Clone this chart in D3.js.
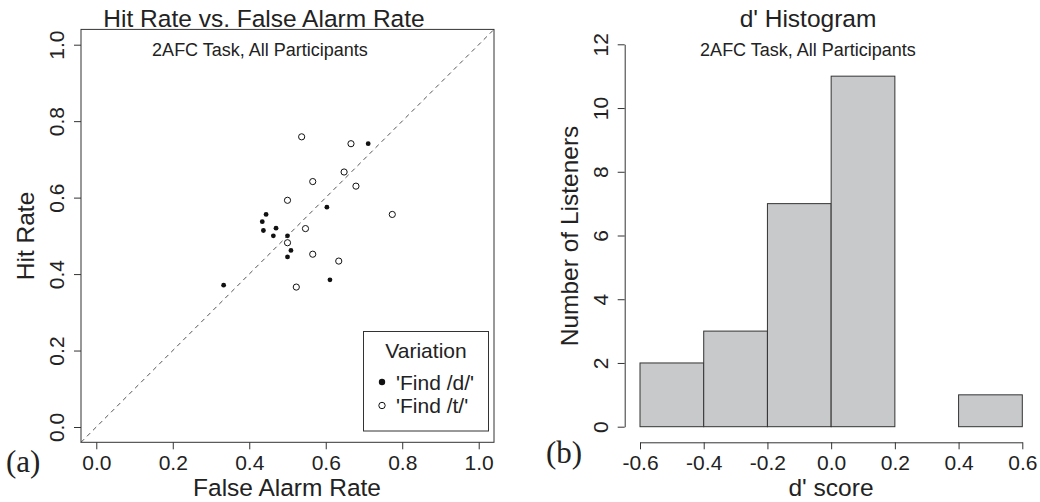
<!DOCTYPE html>
<html><head><meta charset="utf-8">
<script src="https://cdn.jsdelivr.net/npm/d3@7"></script>
<style>
body{margin:0;background:#fff;}
svg text{font-family:"Liberation Sans",Arial,sans-serif;fill:#222;}
</style></head>
<body><svg id="c" width="1040" height="502"></svg>
<script>
// ---- data ----
const findD_FA  = [0.333,0.434,0.444,0.437,0.470,0.463,0.500,0.509,0.500,0.603,0.611,0.711];
const findD_HIT = [0.371,0.537,0.556,0.514,0.520,0.500,0.500,0.462,0.445,0.575,0.385,0.741];
const findT_FA  = [0.537,0.666,0.648,0.566,0.679,0.500,0.774,0.547,0.500,0.566,0.634,0.523];
const findT_HIT = [0.759,0.741,0.667,0.642,0.630,0.593,0.556,0.519,0.482,0.452,0.434,0.366];
const scatterTicks = [0,0.2,0.4,0.6,0.8,1.0];
const binEdges = [-0.6,-0.4,-0.2,0.0,0.2,0.4,0.6];
const binCounts = [2,3,7,11,0,1];
const histYTicks = [0,2,4,6,8,10,12];
const legendLabels = ["'Find /d/'","'Find /t/'"];

const svg = d3.select("#c");
const ink = "#333";
const TICK_FS = "21px";

// ---- left panel: scatter ----
const L = {x0:81, x1:494, y0:29.4, y1:442.3};
const x = d3.scaleLinear().domain([-0.04,1.04]).range([L.x0,L.x1]);
const y = d3.scaleLinear().domain([-0.04,1.04]).range([L.y1,L.y0]);

svg.append("line")
  .attr("x1",x(-0.04)).attr("y1",y(-0.04)).attr("x2",x(1.04)).attr("y2",y(1.04))
  .attr("stroke","#555").attr("stroke-width",1).attr("stroke-dasharray","4.5,4");

svg.append("rect").attr("x",L.x0).attr("y",L.y0).attr("width",L.x1-L.x0).attr("height",L.y1-L.y0)
  .attr("fill","none").attr("stroke",ink).attr("stroke-width",1);

const gx = svg.append("g").attr("transform",`translate(0,${L.y1})`)
  .call(d3.axisBottom(x).tickValues(scatterTicks).tickFormat(d3.format(".1f")).tickSize(7).tickSizeOuter(0));
gx.select(".domain").remove();
gx.selectAll("line").attr("stroke",ink);
gx.selectAll("text").attr("y",12.3).attr("dy","0.71em").style("font-size",TICK_FS).attr("fill","#222");

const gy = svg.append("g").attr("transform",`translate(${L.x0},0)`)
  .call(d3.axisLeft(y).tickValues(scatterTicks).tickFormat(d3.format(".1f")).tickSize(7).tickSizeOuter(0));
gy.select(".domain").remove();
gy.selectAll("line").attr("stroke",ink);
gy.selectAll("text").attr("x",0).attr("y",0).attr("dy",0)
  .attr("text-anchor","middle").attr("transform","translate(-17.5,0) rotate(-90)")
  .style("font-size",TICK_FS).attr("fill","#222");

const dPts = findD_FA.map((v,i)=>({fa:v,hit:findD_HIT[i]}));
const tPts = findT_FA.map((v,i)=>({fa:v,hit:findT_HIT[i]}));
svg.append("g").selectAll("circle").data(dPts).join("circle")
  .attr("cx",d=>x(d.fa)).attr("cy",d=>y(d.hit)).attr("r",2.4).attr("fill","#111");
svg.append("g").selectAll("circle").data(tPts).join("circle")
  .attr("cx",d=>x(d.fa)).attr("cy",d=>y(d.hit)).attr("r",3.1)
  .attr("fill","none").attr("stroke","#111").attr("stroke-width",1);

svg.append("text").attr("x",264).attr("y",27).attr("text-anchor","middle")
  .style("font-size","24.5px").text("Hit Rate vs. False Alarm Rate");
svg.append("text").attr("x",260).attr("y",56).attr("text-anchor","middle")
  .style("font-size","18px").text("2AFC Task, All Participants");
svg.append("text").attr("x",287).attr("y",496).attr("text-anchor","middle")
  .style("font-size","24.5px").text("False Alarm Rate");
svg.append("text").attr("transform","translate(34,236) rotate(-90)").attr("text-anchor","middle")
  .style("font-size","24.5px").text("Hit Rate");
svg.append("text").attr("x",6).attr("y",472).style("font-family","'Liberation Serif','DejaVu Serif',serif")
  .style("font-size","31px").text("(a)");

// legend
const lg = svg.append("g");
lg.append("rect").attr("x",363.5).attr("y",331.5).attr("width",125).attr("height",99.5)
  .attr("fill","#fff").attr("stroke",ink).attr("stroke-width",1);
lg.append("text").attr("x",426).attr("y",357.5).attr("text-anchor","middle").style("font-size","21px").text("Variation");
lg.append("circle").attr("cx",382).attr("cy",382).attr("r",3.2).attr("fill","#111");
lg.append("circle").attr("cx",382).attr("cy",405.5).attr("r",3.2).attr("fill","none").attr("stroke","#111");
lg.append("text").attr("x",396).attr("y",389.5).style("font-size","21px").text(legendLabels[0]);
lg.append("text").attr("x",396).attr("y",413).style("font-size","21px").text(legendLabels[1]);

// ---- right panel: histogram ----
const hx = d3.scaleLinear().domain([-0.6,0.6]).range([640,1022.3]);
const hy = d3.scaleLinear().domain([0,12]).range([426.7,44.3]);
const bins = binCounts.map((c,i)=>({x0:binEdges[i],x1:binEdges[i+1],n:c}));
svg.append("g").selectAll("rect").data(bins).join("rect")
  .attr("x",d=>hx(d.x0)).attr("width",d=>hx(d.x1)-hx(d.x0))
  .attr("y",d=>hy(d.n)).attr("height",d=>hy(0)-hy(d.n))
  .attr("fill","#c8c9cb").attr("stroke",ink).attr("stroke-width",1);

const hgx = svg.append("g").attr("transform","translate(0,442.3)")
  .call(d3.axisBottom(hx).tickValues(binEdges).tickFormat(d3.format(".1f")).tickSize(7).tickSizeOuter(0));
hgx.selectAll("line,path").attr("stroke",ink);
hgx.selectAll("text").attr("y",12.3).attr("dy","0.71em").style("font-size",TICK_FS).attr("fill","#222")
  .text(d=>d3.format(".1f")(d).replace("−","-"));

const hgy = svg.append("g").attr("transform","translate(624.7,0)")
  .call(d3.axisLeft(hy).tickValues(histYTicks).tickSize(7).tickSizeOuter(0));
hgy.selectAll("line,path").attr("stroke",ink);
hgy.selectAll("text").attr("x",0).attr("y",0).attr("dy",0)
  .attr("text-anchor","middle").attr("transform","translate(-16.5,0) rotate(-90)")
  .style("font-size",TICK_FS).attr("fill","#222");

svg.append("text").attr("x",808).attr("y",27).attr("text-anchor","middle")
  .style("font-size","24.5px").text("d' Histogram");
svg.append("text").attr("x",808).attr("y",56).attr("text-anchor","middle")
  .style("font-size","18px").text("2AFC Task, All Participants");
svg.append("text").attr("x",831).attr("y",496).attr("text-anchor","middle")
  .style("font-size","24.5px").text("d' score");
svg.append("text").attr("transform","translate(578,236) rotate(-90)").attr("text-anchor","middle")
  .style("font-size","24.5px").text("Number of Listeners");
svg.append("text").attr("x",546).attr("y",463).style("font-family","'Liberation Serif','DejaVu Serif',serif")
  .style("font-size","31px").text("(b)");
</script></body></html>
